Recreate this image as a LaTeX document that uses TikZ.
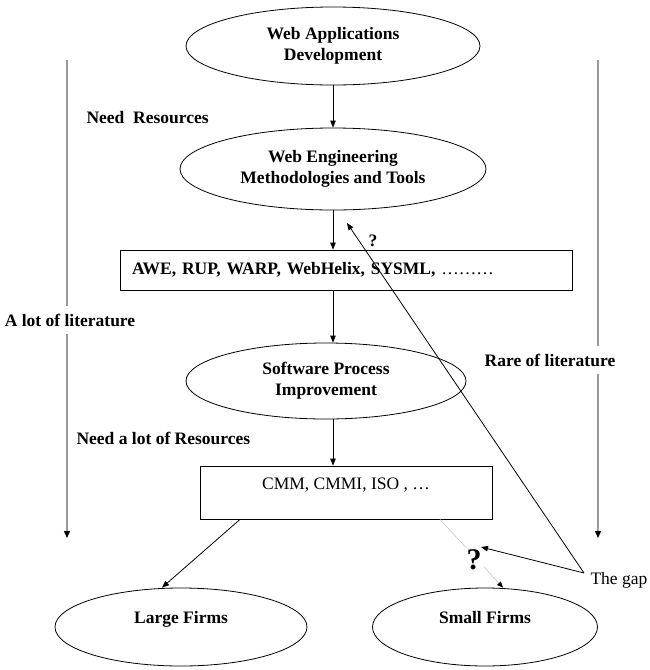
\documentclass[tikz,border=0pt]{standalone}
\usepackage{fontspec}
\setmainfont{Liberation Serif}
\usetikzlibrary{shapes.geometric,arrows.meta}
\begin{document}
\begin{tikzpicture}[x=1pt,y=-1pt,
  txt/.style={font=\fontsize{17.5}{21}\selectfont\bfseries},
  reg/.style={font=\fontsize{17.5}{21}\selectfont},
  ell/.style={draw, ellipse, line width=0.8pt, txt, align=center, inner sep=0pt},
  rbox/.style={draw, rectangle, line width=0.8pt, inner sep=0pt},
  arr/.style={line width=0.8pt, -{Triangle[length=7pt,width=5.5pt]}},
  side/.style={draw=gray!80, line width=1.4pt, -{Triangle[length=7pt,width=6pt,color=black]}},
  lbl/.style={txt, fill=white, inner xsep=1pt, inner ysep=8pt},
]
\useasboundingbox (0,0) rectangle (650,670);

% side arrows
\coordinate (lt) at (67,60);
\coordinate (lb) at (67,538);
\coordinate (rt) at (598,60);
\coordinate (rb) at (598,538);
\draw[side] (lt) -- (lb);
\draw[side] (rt) -- (rb);
\node[lbl] (al) at (70,320) {A lot of literature};
\node[lbl] (rl) at (550,360) {Rare of literature};
\node[txt, anchor=west] (nr) at (83,118) {Need\ \ Resources};
\node[txt, anchor=west] (nl) at (73,438) {Need a lot of Resources};

% main nodes
\node[ell, minimum width=294, minimum height=78] (e1) at (333,46) {Web Applications\\Development};
\node[ell, minimum width=306, minimum height=82] (e2) at (333,169) {Web Engineering\\Methodologies and Tools};
\node[rbox, txt, minimum width=452, minimum height=40, text width=428, align=left, inner xsep=12pt] (b1) at (346,270) {AWE, RUP, WARP, WebHelix, SYSML, {\mdseries\ldots\ldots\ldots}};
\node[ell, minimum width=280, minimum height=76] (e3) at (326,381) {Software Process\\Improvement};
\node[rbox, reg, minimum width=292, minimum height=53, text height=12pt, text depth=18pt] (b2) at (346,492.5) {CMM, CMMI, ISO , \ldots};
\node[ell, minimum width=252, minimum height=78, text height=12pt, text depth=20pt] (e4) at (181,627) {Large Firms};
\node[ell, minimum width=225, minimum height=78, text height=12pt, text depth=20pt] (e5) at (485,627) {Small Firms};

% connectors
\draw[arr] (e1.south) -- (e2.north);
\draw[arr] (e2.south) -- (e2.south |- b1.north);
\draw[arr] (e2.south |- b1.south) -- (e2.south |- e3.north);
\draw[arr] (e2.south |- e3.south) -- (e2.south |- b2.north);
\draw[arr] ([xshift=-106pt]b2.south) -- ([xshift=-19pt]e4.north);
\draw[draw=gray!45, line width=0.6pt, -{Triangle[length=6pt,width=5pt,color=black]}] ([xshift=94pt]b2.south) -- ([xshift=18pt]e5.north);

% the gap
\node[txt, fill=white, inner xsep=8.5pt, inner ysep=2pt] (q1) at (373,241) {?};
\node[font=\fontsize{30}{30}\selectfont\bfseries, fill=white, inner sep=2pt] (q2) at (474,560) {?};
\coordinate (q1t) at (347,223);
\coordinate (q2t) at (481,547);
\coordinate (gp) at (584,573);
\draw[arr] (gp) -- (q1t);
\draw[arr] (gp) -- (q2t);
\node[reg, anchor=west] (gap) at (587,580) {The gap};
\end{tikzpicture}
\end{document}
